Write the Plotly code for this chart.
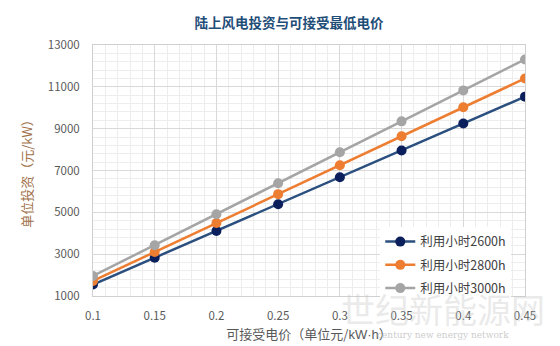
import plotly.graph_objects as go

x_vals = [0.1, 0.15, 0.2, 0.25, 0.3, 0.35, 0.4, 0.45]
x_ticktext = ["0.1", "0.15", "0.2", "0.25", "0.3", "0.35", "0.4", "0.45"]
s2600 = [1550, 2830, 4110, 5390, 6680, 7960, 9250, 10530]
s2800 = [1720, 3100, 4490, 5870, 7250, 8640, 10020, 11400]
s3000 = [1960, 3430, 4910, 6390, 7870, 9350, 10830, 12310]
names = ["利用小时2600h", "利用小时2800h", "利用小时3000h"]
y_ticks = [1000, 3000, 5000, 7000, 9000, 11000, 13000]
y_ticktext = [str(v) for v in y_ticks]

x_minor = [round(0.1 + 0.01 * i, 2) for i in range(36)]
y_minor = [1000 + 400 * i for i in range(31)]

FONT = "Noto Sans CJK SC"

fig = go.Figure()
series = [
    (s2600, names[0], "#2B4F7E", "#0B1F5C"),
    (s2800, names[1], "#ED7D31", "#ED7D31"),
    (s3000, names[2], "#A5A5A5", "#A5A5A5"),
]
for i, (vals, nm, lc, mc) in enumerate(series):
    fig.add_trace(go.Scatter(
        x=x_vals, y=vals, name=nm, mode="lines+markers",
        legendgroup="g%d" % i,
        line=dict(color=lc, width=2.5),
        marker=dict(color=mc, size=10),
    ))

fig.update_layout(
    width=560, height=346,
    margin=dict(l=93, r=35, t=45, b=50),
    paper_bgcolor="white", plot_bgcolor="white",
    font=dict(family=FONT, color="#595959", size=12),
    title=dict(text="<b>陆上风电投资与可接受最低电价</b>", x=0.516, xanchor="center",
               y=0.932, yanchor="middle",
               font=dict(family=FONT, size=13.5, color="#1F4E79")),
    showlegend=True,
    legend=dict(x=0.665, y=0.275, xanchor="left", yanchor="top",
                bgcolor="rgba(255,255,255,1)", borderwidth=0,
                font=dict(family=FONT, size=12.5, color="#404040"),
                tracegroupgap=4, itemwidth=30),
)
fig.update_xaxes(
    range=[0.1, 0.45], tickmode="array", tickvals=x_vals, ticktext=x_ticktext,
    automargin=False,
    showgrid=True, gridcolor="#D9D9D9", gridwidth=1,
    minor=dict(tickmode="array", tickvals=x_minor, showgrid=True, gridcolor="#EDEDED", gridwidth=1),
    showline=True, linecolor="#D0D0D0", linewidth=1, mirror=True,
    zeroline=False, ticks="", ticklabelstandoff=9,
    tickfont=dict(family=FONT, size=11.5, color="#595959"),
    title=dict(text="可接受电价（单位元/<span style=\"font-family:'Liberation Sans'\">kW·h</span>）",
               standoff=8, font=dict(family=FONT, size=13, color="#595959")),
)
fig.update_yaxes(
    range=[1000, 13000], tickmode="array", tickvals=y_ticks, ticktext=y_ticktext,
    automargin=False,
    showgrid=True, gridcolor="#D9D9D9", gridwidth=1,
    minor=dict(tickmode="array", tickvals=y_minor, showgrid=True, gridcolor="#EDEDED", gridwidth=1),
    showline=True, linecolor="#D0D0D0", linewidth=1, mirror=True,
    zeroline=False, ticks="", ticklabelstandoff=10,
    tickfont=dict(family=FONT, size=11.5, color="#595959"),
    title=dict(text="单位投资（元/kW）", standoff=12,
               font=dict(family=FONT, size=13, color="#A0704A")),
)

# faint watermark
fig.add_annotation(text="世纪新能源网", xref="paper", yref="paper", x=0.81, y=-0.05,
                   xanchor="center", yanchor="middle", showarrow=False,
                   font=dict(family=FONT, size=34, color="rgba(200,200,200,0.4)"))
fig.add_annotation(text="century new energy network", xref="paper", yref="paper", x=0.81, y=-0.155,
                   xanchor="center", yanchor="middle", showarrow=False,
                   font=dict(family="DejaVu Serif", size=9, color="rgba(190,190,190,0.8)"))

fig.write_html("out.html")
